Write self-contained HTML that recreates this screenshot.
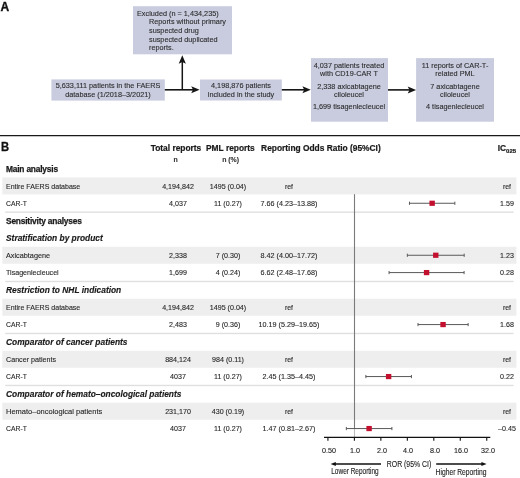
<!DOCTYPE html>
<html><head><meta charset="utf-8"><style>
html,body{margin:0;padding:0;background:#fff;}
body{width:520px;height:478px;position:relative;overflow:hidden;font-family:"Liberation Sans", sans-serif;}
.t{position:absolute;white-space:nowrap;filter:grayscale(1);-webkit-text-stroke:0.12px currentColor;}
.r{position:absolute;}
svg{position:absolute;left:0;top:0;}
</style></head><body>

<svg width="520" height="478" viewBox="0 0 520 478"><rect x="133.00" y="6.20" width="99.00" height="48.10" fill="#c9ccdf"/><rect x="51.40" y="79.40" width="113.40" height="21.20" fill="#c9ccdf"/><rect x="200.00" y="79.50" width="81.80" height="21.00" fill="#c9ccdf"/><rect x="311.00" y="58.10" width="77.00" height="63.60" fill="#c9ccdf"/><rect x="416.10" y="58.10" width="77.90" height="63.60" fill="#c9ccdf"/><line x1="182.3" y1="90" x2="182.3" y2="61" stroke="#151515" stroke-width="1.5"/><path d="M182.3 55.2 L185.9 63.8 L182.3 62 L178.7 63.8 Z" fill="#151515"/><line x1="164.8" y1="89.8" x2="194" y2="89.8" stroke="#151515" stroke-width="1.6"/><path d="M199.6 89.8 L191.2 86.3 L193 89.8 L191.2 93.3 Z" fill="#151515"/><line x1="281.8" y1="89.8" x2="305" y2="89.8" stroke="#151515" stroke-width="1.6"/><path d="M310.8 89.8 L302.4 86.3 L304.2 89.8 L302.4 93.3 Z" fill="#151515"/><line x1="388" y1="89.9" x2="410" y2="89.9" stroke="#151515" stroke-width="1.6"/><path d="M416.1 89.9 L407.7 86.4 L409.5 89.9 L407.7 93.4 Z" fill="#151515"/><line x1="0" y1="135.6" x2="520" y2="135.6" stroke="#1a1a1a" stroke-width="1.3"/><rect x="2.30" y="177.43" width="514.10" height="17.00" fill="#eeeeee"/><rect x="2.30" y="246.75" width="514.10" height="17.00" fill="#eeeeee"/><rect x="2.30" y="298.74" width="514.10" height="17.00" fill="#eeeeee"/><rect x="2.30" y="350.73" width="514.10" height="17.00" fill="#eeeeee"/><rect x="2.30" y="402.72" width="514.10" height="17.00" fill="#eeeeee"/><rect x="5.20" y="211.46" width="508.40" height="1.40" fill="#dfdfdf"/><rect x="5.20" y="280.78" width="508.40" height="1.40" fill="#dfdfdf"/><rect x="5.20" y="332.77" width="508.40" height="1.40" fill="#dfdfdf"/><rect x="5.20" y="384.76" width="508.40" height="1.40" fill="#dfdfdf"/><line x1="354.5" y1="194.2" x2="354.5" y2="428.6" stroke="#7a7a7a" stroke-width="1.1"/><line x1="354.5" y1="428.6" x2="354.5" y2="437" stroke="#7a7a7a" stroke-width="1.1" stroke-dasharray="1 1"/><line x1="409.48" y1="203.26" x2="454.85" y2="203.26" stroke="#5a5a5a" stroke-width="1"/><line x1="409.48" y1="201.66" x2="409.48" y2="204.86" stroke="#5a5a5a" stroke-width="1"/><line x1="454.85" y1="201.66" x2="454.85" y2="204.86" stroke="#5a5a5a" stroke-width="1"/><rect x="429.45" y="200.66" width="5.4" height="5.2" fill="#c3102f"/><line x1="407.34" y1="255.25" x2="464.18" y2="255.25" stroke="#5a5a5a" stroke-width="1"/><line x1="407.34" y1="253.65" x2="407.34" y2="256.85" stroke="#5a5a5a" stroke-width="1"/><line x1="464.18" y1="253.65" x2="464.18" y2="256.85" stroke="#5a5a5a" stroke-width="1"/><rect x="433.06" y="252.65" width="5.4" height="5.2" fill="#c3102f"/><line x1="389.08" y1="272.58" x2="464.09" y2="272.58" stroke="#5a5a5a" stroke-width="1"/><line x1="389.08" y1="270.98" x2="389.08" y2="274.18" stroke="#5a5a5a" stroke-width="1"/><line x1="464.09" y1="270.98" x2="464.09" y2="274.18" stroke="#5a5a5a" stroke-width="1"/><rect x="423.88" y="269.98" width="5.4" height="5.2" fill="#c3102f"/><line x1="418.01" y1="324.57" x2="468.13" y2="324.57" stroke="#5a5a5a" stroke-width="1"/><line x1="418.01" y1="322.97" x2="418.01" y2="326.17" stroke="#5a5a5a" stroke-width="1"/><line x1="468.13" y1="322.97" x2="468.13" y2="326.17" stroke="#5a5a5a" stroke-width="1"/><rect x="440.35" y="321.97" width="5.4" height="5.2" fill="#c3102f"/><line x1="365.86" y1="376.56" x2="411.41" y2="376.56" stroke="#5a5a5a" stroke-width="1"/><line x1="365.86" y1="374.96" x2="365.86" y2="378.16" stroke="#5a5a5a" stroke-width="1"/><line x1="411.41" y1="374.96" x2="411.41" y2="378.16" stroke="#5a5a5a" stroke-width="1"/><rect x="385.92" y="373.96" width="5.4" height="5.2" fill="#c3102f"/><line x1="346.35" y1="428.55" x2="391.90" y2="428.55" stroke="#5a5a5a" stroke-width="1"/><line x1="346.35" y1="426.95" x2="346.35" y2="430.15" stroke="#5a5a5a" stroke-width="1"/><line x1="391.90" y1="426.95" x2="391.90" y2="430.15" stroke="#5a5a5a" stroke-width="1"/><rect x="366.41" y="425.95" width="5.4" height="5.2" fill="#c3102f"/><line x1="324" y1="437.3" x2="490.3" y2="437.3" stroke="#111" stroke-width="1.3"/><line x1="327.93" y1="437.3" x2="327.93" y2="440.7" stroke="#111" stroke-width="1.1"/><line x1="354.40" y1="437.3" x2="354.40" y2="440.7" stroke="#111" stroke-width="1.1"/><line x1="380.87" y1="437.3" x2="380.87" y2="440.7" stroke="#111" stroke-width="1.1"/><line x1="407.34" y1="437.3" x2="407.34" y2="440.7" stroke="#111" stroke-width="1.1"/><line x1="433.81" y1="437.3" x2="433.81" y2="440.7" stroke="#111" stroke-width="1.1"/><line x1="460.28" y1="437.3" x2="460.28" y2="440.7" stroke="#111" stroke-width="1.1"/><line x1="486.75" y1="437.3" x2="486.75" y2="440.7" stroke="#111" stroke-width="1.1"/><line x1="334" y1="464.0" x2="381" y2="464.0" stroke="#111" stroke-width="1.5"/><path d="M330.6 464 L335.8 461.9 L335.8 466.1 Z" fill="#111"/><line x1="436.2" y1="464.0" x2="483" y2="464.0" stroke="#111" stroke-width="1.5"/><path d="M486.6 464 L481.4 461.9 L481.4 466.1 Z" fill="#111"/></svg>
<div class="t" style="top:1.14px;font-size:12.0px;line-height:12.0px;font-weight:bold;font-style:normal;color:#111;left:0.40px;-webkit-text-stroke:0.35px #111;">A</div><div class="t" style="top:9.87px;font-size:7.6px;line-height:7.6px;font-weight:normal;font-style:normal;color:#2c2c38;left:137.10px;transform:scaleX(0.96);transform-origin:0 0;">Excluded (n = 1,434,235)</div><div class="t" style="top:18.47px;font-size:7.6px;line-height:7.6px;font-weight:normal;font-style:normal;color:#2c2c38;left:149.20px;transform:scaleX(0.96);transform-origin:0 0;">Reports without primary</div><div class="t" style="top:27.07px;font-size:7.6px;line-height:7.6px;font-weight:normal;font-style:normal;color:#2c2c38;left:149.20px;transform:scaleX(0.96);transform-origin:0 0;">suspected drug</div><div class="t" style="top:35.67px;font-size:7.6px;line-height:7.6px;font-weight:normal;font-style:normal;color:#2c2c38;left:149.20px;transform:scaleX(0.96);transform-origin:0 0;">suspected duplicated</div><div class="t" style="top:44.27px;font-size:7.6px;line-height:7.6px;font-weight:normal;font-style:normal;color:#2c2c38;left:149.20px;transform:scaleX(0.96);transform-origin:0 0;">reports.</div><div class="t" style="top:82.07px;font-size:7.6px;line-height:7.6px;font-weight:normal;font-style:normal;color:#2c2c38;left:-41.90px;width:300px;text-align:center;transform:scaleX(0.96);transform-origin:50% 0;">5,633,111 patients in the FAERS</div><div class="t" style="top:90.57px;font-size:7.6px;line-height:7.6px;font-weight:normal;font-style:normal;color:#2c2c38;left:-41.90px;width:300px;text-align:center;transform:scaleX(0.96);transform-origin:50% 0;">database (1/2018–3/2021)</div><div class="t" style="top:82.07px;font-size:7.6px;line-height:7.6px;font-weight:normal;font-style:normal;color:#2c2c38;left:90.90px;width:300px;text-align:center;transform:scaleX(0.96);transform-origin:50% 0;">4,198,876 patients</div><div class="t" style="top:90.57px;font-size:7.6px;line-height:7.6px;font-weight:normal;font-style:normal;color:#2c2c38;left:90.90px;width:300px;text-align:center;transform:scaleX(0.96);transform-origin:50% 0;">included in the study</div><div class="t" style="top:62.07px;font-size:7.6px;line-height:7.6px;font-weight:normal;font-style:normal;color:#2c2c38;left:199.40px;width:300px;text-align:center;transform:scaleX(0.96);transform-origin:50% 0;">4,037 patients treated</div><div class="t" style="top:70.07px;font-size:7.6px;line-height:7.6px;font-weight:normal;font-style:normal;color:#2c2c38;left:199.40px;width:300px;text-align:center;transform:scaleX(0.96);transform-origin:50% 0;">with CD19-CAR T</div><div class="t" style="top:82.77px;font-size:7.6px;line-height:7.6px;font-weight:normal;font-style:normal;color:#2c2c38;left:199.40px;width:300px;text-align:center;transform:scaleX(0.96);transform-origin:50% 0;">2,338 axicabtagene</div><div class="t" style="top:91.17px;font-size:7.6px;line-height:7.6px;font-weight:normal;font-style:normal;color:#2c2c38;left:199.40px;width:300px;text-align:center;transform:scaleX(0.96);transform-origin:50% 0;">ciloleucel</div><div class="t" style="top:103.47px;font-size:7.6px;line-height:7.6px;font-weight:normal;font-style:normal;color:#2c2c38;left:199.40px;width:300px;text-align:center;transform:scaleX(0.96);transform-origin:50% 0;">1,699 tisagenlecleucel</div><div class="t" style="top:62.07px;font-size:7.6px;line-height:7.6px;font-weight:normal;font-style:normal;color:#2c2c38;left:305.10px;width:300px;text-align:center;transform:scaleX(0.96);transform-origin:50% 0;">11 reports of CAR-T-</div><div class="t" style="top:70.07px;font-size:7.6px;line-height:7.6px;font-weight:normal;font-style:normal;color:#2c2c38;left:305.10px;width:300px;text-align:center;transform:scaleX(0.96);transform-origin:50% 0;">related PML</div><div class="t" style="top:82.77px;font-size:7.6px;line-height:7.6px;font-weight:normal;font-style:normal;color:#2c2c38;left:305.10px;width:300px;text-align:center;transform:scaleX(0.96);transform-origin:50% 0;">7 axicabtagene</div><div class="t" style="top:91.17px;font-size:7.6px;line-height:7.6px;font-weight:normal;font-style:normal;color:#2c2c38;left:305.10px;width:300px;text-align:center;transform:scaleX(0.96);transform-origin:50% 0;">ciloleucel</div><div class="t" style="top:103.47px;font-size:7.6px;line-height:7.6px;font-weight:normal;font-style:normal;color:#2c2c38;left:305.10px;width:300px;text-align:center;transform:scaleX(0.96);transform-origin:50% 0;">4 tisagenlecleucel</div><div class="t" style="top:140.57px;font-size:12.2px;line-height:12.2px;font-weight:bold;font-style:normal;color:#111;left:0.80px;transform:scaleX(0.92);transform-origin:0 0;-webkit-text-stroke:0.3px #111;">B</div><div class="t" style="top:143.59px;font-size:8.4px;line-height:8.4px;font-weight:bold;font-style:normal;color:#1a1a1a;left:26.00px;width:300px;text-align:center;-webkit-text-stroke:0.2px #1a1a1a;">Total reports</div><div class="t" style="top:143.59px;font-size:8.4px;line-height:8.4px;font-weight:bold;font-style:normal;color:#1a1a1a;left:80.40px;width:300px;text-align:center;-webkit-text-stroke:0.2px #1a1a1a;">PML reports</div><div class="t" style="top:143.59px;font-size:8.4px;line-height:8.4px;font-weight:bold;font-style:normal;color:#1a1a1a;left:261.10px;-webkit-text-stroke:0.2px #1a1a1a;">Reporting Odds Ratio (95%CI)</div><div class="t" style="top:156.96px;font-size:6.9px;line-height:6.9px;font-weight:bold;font-style:normal;color:#333;left:25.60px;width:300px;text-align:center;">n</div><div class="t" style="top:156.96px;font-size:6.9px;line-height:6.9px;font-weight:bold;font-style:normal;color:#333;left:80.60px;width:300px;text-align:center;">n (%)</div><div class="t" style="top:143.79px;font-size:8.4px;line-height:8.4px;font-weight:bold;font-style:normal;color:#1a1a1a;left:497.70px;-webkit-text-stroke:0.2px #1a1a1a;">IC<span style="font-size:6px;position:relative;top:2.4px">025</span></div><div class="t" style="top:164.69px;font-size:8.4px;line-height:8.4px;font-weight:bold;font-style:normal;color:#1a1a1a;left:6.00px;letter-spacing:-0.2px;-webkit-text-stroke:0.25px #1a1a1a;">Main analysis</div><div class="t" style="top:182.53px;font-size:7.8px;line-height:7.8px;font-weight:normal;font-style:normal;color:#282828;left:6.00px;transform:scaleX(0.9019230769230768);transform-origin:0 0;">Entire FAERS database</div><div class="t" style="top:182.53px;font-size:7.8px;line-height:7.8px;font-weight:normal;font-style:normal;color:#282828;left:27.60px;width:300px;text-align:center;transform:scaleX(0.9134615384615384);transform-origin:50% 0;">4,194,842</div><div class="t" style="top:182.53px;font-size:7.8px;line-height:7.8px;font-weight:normal;font-style:normal;color:#282828;left:78.00px;width:300px;text-align:center;transform:scaleX(0.9134615384615384);transform-origin:50% 0;">1495 (0.04)</div><div class="t" style="top:182.70px;font-size:7.6px;line-height:7.6px;font-weight:normal;font-style:normal;color:#282828;left:138.80px;width:300px;text-align:center;transform:scaleX(0.9134615384615384);transform-origin:50% 0;">ref</div><div class="t" style="top:182.70px;font-size:7.6px;line-height:7.6px;font-weight:normal;font-style:normal;color:#282828;left:356.80px;width:300px;text-align:center;transform:scaleX(0.9134615384615384);transform-origin:50% 0;">ref</div><div class="t" style="top:199.86px;font-size:7.8px;line-height:7.8px;font-weight:normal;font-style:normal;color:#282828;left:6.00px;transform:scaleX(0.875);transform-origin:0 0;">CAR-T</div><div class="t" style="top:199.86px;font-size:7.8px;line-height:7.8px;font-weight:normal;font-style:normal;color:#282828;left:27.60px;width:300px;text-align:center;transform:scaleX(0.9134615384615384);transform-origin:50% 0;">4,037</div><div class="t" style="top:199.86px;font-size:7.8px;line-height:7.8px;font-weight:normal;font-style:normal;color:#282828;left:78.00px;width:300px;text-align:center;transform:scaleX(0.9134615384615384);transform-origin:50% 0;">11 (0.27)</div><div class="t" style="top:199.77px;font-size:7.9px;line-height:7.9px;font-weight:normal;font-style:normal;color:#282828;left:138.80px;width:300px;text-align:center;transform:scaleX(0.9134615384615384);transform-origin:50% 0;">7.66 (4.23–13.88)</div><div class="t" style="top:199.86px;font-size:7.8px;line-height:7.8px;font-weight:normal;font-style:normal;color:#282828;left:356.80px;width:300px;text-align:center;transform:scaleX(0.9134615384615384);transform-origin:50% 0;">1.59</div><div class="t" style="top:216.68px;font-size:8.4px;line-height:8.4px;font-weight:bold;font-style:normal;color:#1a1a1a;left:6.00px;letter-spacing:-0.2px;-webkit-text-stroke:0.25px #1a1a1a;">Sensitivity analyses</div><div class="t" style="top:234.03px;font-size:8.38px;line-height:8.38px;font-weight:bold;font-style:italic;color:#1a1a1a;left:6.00px;-webkit-text-stroke:0.15px #1a1a1a;">Stratification by product</div><div class="t" style="top:251.85px;font-size:7.8px;line-height:7.8px;font-weight:normal;font-style:normal;color:#282828;left:6.00px;transform:scaleX(0.9326923076923076);transform-origin:0 0;">Axicabtagene</div><div class="t" style="top:251.85px;font-size:7.8px;line-height:7.8px;font-weight:normal;font-style:normal;color:#282828;left:27.60px;width:300px;text-align:center;transform:scaleX(0.9134615384615384);transform-origin:50% 0;">2,338</div><div class="t" style="top:251.85px;font-size:7.8px;line-height:7.8px;font-weight:normal;font-style:normal;color:#282828;left:78.00px;width:300px;text-align:center;transform:scaleX(0.9134615384615384);transform-origin:50% 0;">7 (0.30)</div><div class="t" style="top:251.76px;font-size:7.9px;line-height:7.9px;font-weight:normal;font-style:normal;color:#282828;left:138.80px;width:300px;text-align:center;transform:scaleX(0.9134615384615384);transform-origin:50% 0;">8.42 (4.00–17.72)</div><div class="t" style="top:251.85px;font-size:7.8px;line-height:7.8px;font-weight:normal;font-style:normal;color:#282828;left:356.80px;width:300px;text-align:center;transform:scaleX(0.9134615384615384);transform-origin:50% 0;">1.23</div><div class="t" style="top:269.18px;font-size:7.8px;line-height:7.8px;font-weight:normal;font-style:normal;color:#282828;left:6.00px;transform:scaleX(0.9115384615384615);transform-origin:0 0;">Tisagenlecleucel</div><div class="t" style="top:269.18px;font-size:7.8px;line-height:7.8px;font-weight:normal;font-style:normal;color:#282828;left:27.60px;width:300px;text-align:center;transform:scaleX(0.9134615384615384);transform-origin:50% 0;">1,699</div><div class="t" style="top:269.18px;font-size:7.8px;line-height:7.8px;font-weight:normal;font-style:normal;color:#282828;left:78.00px;width:300px;text-align:center;transform:scaleX(0.9134615384615384);transform-origin:50% 0;">4 (0.24)</div><div class="t" style="top:269.09px;font-size:7.9px;line-height:7.9px;font-weight:normal;font-style:normal;color:#282828;left:138.80px;width:300px;text-align:center;transform:scaleX(0.9134615384615384);transform-origin:50% 0;">6.62 (2.48–17.68)</div><div class="t" style="top:269.18px;font-size:7.8px;line-height:7.8px;font-weight:normal;font-style:normal;color:#282828;left:356.80px;width:300px;text-align:center;transform:scaleX(0.9134615384615384);transform-origin:50% 0;">0.28</div><div class="t" style="top:286.02px;font-size:8.38px;line-height:8.38px;font-weight:bold;font-style:italic;color:#1a1a1a;left:6.00px;-webkit-text-stroke:0.15px #1a1a1a;">Restriction to NHL indication</div><div class="t" style="top:303.84px;font-size:7.8px;line-height:7.8px;font-weight:normal;font-style:normal;color:#282828;left:6.00px;transform:scaleX(0.9019230769230768);transform-origin:0 0;">Entire FAERS database</div><div class="t" style="top:303.84px;font-size:7.8px;line-height:7.8px;font-weight:normal;font-style:normal;color:#282828;left:27.60px;width:300px;text-align:center;transform:scaleX(0.9134615384615384);transform-origin:50% 0;">4,194,842</div><div class="t" style="top:303.84px;font-size:7.8px;line-height:7.8px;font-weight:normal;font-style:normal;color:#282828;left:78.00px;width:300px;text-align:center;transform:scaleX(0.9134615384615384);transform-origin:50% 0;">1495 (0.04)</div><div class="t" style="top:304.01px;font-size:7.6px;line-height:7.6px;font-weight:normal;font-style:normal;color:#282828;left:138.80px;width:300px;text-align:center;transform:scaleX(0.9134615384615384);transform-origin:50% 0;">ref</div><div class="t" style="top:304.01px;font-size:7.6px;line-height:7.6px;font-weight:normal;font-style:normal;color:#282828;left:356.80px;width:300px;text-align:center;transform:scaleX(0.9134615384615384);transform-origin:50% 0;">ref</div><div class="t" style="top:321.17px;font-size:7.8px;line-height:7.8px;font-weight:normal;font-style:normal;color:#282828;left:6.00px;transform:scaleX(0.875);transform-origin:0 0;">CAR-T</div><div class="t" style="top:321.17px;font-size:7.8px;line-height:7.8px;font-weight:normal;font-style:normal;color:#282828;left:27.60px;width:300px;text-align:center;transform:scaleX(0.9134615384615384);transform-origin:50% 0;">2,483</div><div class="t" style="top:321.17px;font-size:7.8px;line-height:7.8px;font-weight:normal;font-style:normal;color:#282828;left:78.00px;width:300px;text-align:center;transform:scaleX(0.9134615384615384);transform-origin:50% 0;">9 (0.36)</div><div class="t" style="top:321.08px;font-size:7.9px;line-height:7.9px;font-weight:normal;font-style:normal;color:#282828;left:138.80px;width:300px;text-align:center;transform:scaleX(0.9134615384615384);transform-origin:50% 0;">10.19 (5.29–19.65)</div><div class="t" style="top:321.17px;font-size:7.8px;line-height:7.8px;font-weight:normal;font-style:normal;color:#282828;left:356.80px;width:300px;text-align:center;transform:scaleX(0.9134615384615384);transform-origin:50% 0;">1.68</div><div class="t" style="top:338.01px;font-size:8.38px;line-height:8.38px;font-weight:bold;font-style:italic;color:#1a1a1a;left:6.00px;-webkit-text-stroke:0.15px #1a1a1a;">Comparator of cancer patients</div><div class="t" style="top:355.83px;font-size:7.8px;line-height:7.8px;font-weight:normal;font-style:normal;color:#282828;left:6.00px;transform:scaleX(0.9173076923076923);transform-origin:0 0;">Cancer patients</div><div class="t" style="top:355.83px;font-size:7.8px;line-height:7.8px;font-weight:normal;font-style:normal;color:#282828;left:27.60px;width:300px;text-align:center;transform:scaleX(0.9134615384615384);transform-origin:50% 0;">884,124</div><div class="t" style="top:355.83px;font-size:7.8px;line-height:7.8px;font-weight:normal;font-style:normal;color:#282828;left:78.00px;width:300px;text-align:center;transform:scaleX(0.9134615384615384);transform-origin:50% 0;">984 (0.11)</div><div class="t" style="top:356.00px;font-size:7.6px;line-height:7.6px;font-weight:normal;font-style:normal;color:#282828;left:138.80px;width:300px;text-align:center;transform:scaleX(0.9134615384615384);transform-origin:50% 0;">ref</div><div class="t" style="top:356.00px;font-size:7.6px;line-height:7.6px;font-weight:normal;font-style:normal;color:#282828;left:356.80px;width:300px;text-align:center;transform:scaleX(0.9134615384615384);transform-origin:50% 0;">ref</div><div class="t" style="top:373.16px;font-size:7.8px;line-height:7.8px;font-weight:normal;font-style:normal;color:#282828;left:6.00px;transform:scaleX(0.875);transform-origin:0 0;">CAR-T</div><div class="t" style="top:373.16px;font-size:7.8px;line-height:7.8px;font-weight:normal;font-style:normal;color:#282828;left:27.60px;width:300px;text-align:center;transform:scaleX(0.9134615384615384);transform-origin:50% 0;">4037</div><div class="t" style="top:373.16px;font-size:7.8px;line-height:7.8px;font-weight:normal;font-style:normal;color:#282828;left:78.00px;width:300px;text-align:center;transform:scaleX(0.9134615384615384);transform-origin:50% 0;">11 (0.27)</div><div class="t" style="top:373.07px;font-size:7.9px;line-height:7.9px;font-weight:normal;font-style:normal;color:#282828;left:138.80px;width:300px;text-align:center;transform:scaleX(0.9134615384615384);transform-origin:50% 0;">2.45 (1.35–4.45)</div><div class="t" style="top:373.16px;font-size:7.8px;line-height:7.8px;font-weight:normal;font-style:normal;color:#282828;left:356.80px;width:300px;text-align:center;transform:scaleX(0.9134615384615384);transform-origin:50% 0;">0.22</div><div class="t" style="top:390.00px;font-size:8.38px;line-height:8.38px;font-weight:bold;font-style:italic;color:#1a1a1a;left:6.00px;-webkit-text-stroke:0.15px #1a1a1a;">Comparator of hemato–oncological patients</div><div class="t" style="top:407.82px;font-size:7.8px;line-height:7.8px;font-weight:normal;font-style:normal;color:#282828;left:6.00px;transform:scaleX(0.9615384615384616);transform-origin:0 0;">Hemato–oncological patients</div><div class="t" style="top:407.82px;font-size:7.8px;line-height:7.8px;font-weight:normal;font-style:normal;color:#282828;left:27.60px;width:300px;text-align:center;transform:scaleX(0.9134615384615384);transform-origin:50% 0;">231,170</div><div class="t" style="top:407.82px;font-size:7.8px;line-height:7.8px;font-weight:normal;font-style:normal;color:#282828;left:78.00px;width:300px;text-align:center;transform:scaleX(0.9134615384615384);transform-origin:50% 0;">430 (0.19)</div><div class="t" style="top:407.99px;font-size:7.6px;line-height:7.6px;font-weight:normal;font-style:normal;color:#282828;left:138.80px;width:300px;text-align:center;transform:scaleX(0.9134615384615384);transform-origin:50% 0;">ref</div><div class="t" style="top:407.99px;font-size:7.6px;line-height:7.6px;font-weight:normal;font-style:normal;color:#282828;left:356.80px;width:300px;text-align:center;transform:scaleX(0.9134615384615384);transform-origin:50% 0;">ref</div><div class="t" style="top:425.15px;font-size:7.8px;line-height:7.8px;font-weight:normal;font-style:normal;color:#282828;left:6.00px;transform:scaleX(0.875);transform-origin:0 0;">CAR-T</div><div class="t" style="top:425.15px;font-size:7.8px;line-height:7.8px;font-weight:normal;font-style:normal;color:#282828;left:27.60px;width:300px;text-align:center;transform:scaleX(0.9134615384615384);transform-origin:50% 0;">4037</div><div class="t" style="top:425.15px;font-size:7.8px;line-height:7.8px;font-weight:normal;font-style:normal;color:#282828;left:78.00px;width:300px;text-align:center;transform:scaleX(0.9134615384615384);transform-origin:50% 0;">11 (0.27)</div><div class="t" style="top:425.06px;font-size:7.9px;line-height:7.9px;font-weight:normal;font-style:normal;color:#282828;left:138.80px;width:300px;text-align:center;transform:scaleX(0.9134615384615384);transform-origin:50% 0;">1.47 (0.81–2.67)</div><div class="t" style="top:425.15px;font-size:7.8px;line-height:7.8px;font-weight:normal;font-style:normal;color:#282828;left:356.80px;width:300px;text-align:center;transform:scaleX(0.9134615384615384);transform-origin:50% 0;">–0.45</div><div class="t" style="top:447.40px;font-size:7.8px;line-height:7.8px;font-weight:normal;font-style:normal;color:#222;left:308.73px;width:40px;text-align:center;transform:scaleX(0.92);transform-origin:50% 0;">0.50</div><div class="t" style="top:447.40px;font-size:7.8px;line-height:7.8px;font-weight:normal;font-style:normal;color:#222;left:334.60px;width:40px;text-align:center;transform:scaleX(0.92);transform-origin:50% 0;">1.0</div><div class="t" style="top:447.40px;font-size:7.8px;line-height:7.8px;font-weight:normal;font-style:normal;color:#222;left:361.67px;width:40px;text-align:center;transform:scaleX(0.92);transform-origin:50% 0;">2.0</div><div class="t" style="top:447.40px;font-size:7.8px;line-height:7.8px;font-weight:normal;font-style:normal;color:#222;left:388.14px;width:40px;text-align:center;transform:scaleX(0.92);transform-origin:50% 0;">4.0</div><div class="t" style="top:447.40px;font-size:7.8px;line-height:7.8px;font-weight:normal;font-style:normal;color:#222;left:414.61px;width:40px;text-align:center;transform:scaleX(0.92);transform-origin:50% 0;">8.0</div><div class="t" style="top:447.40px;font-size:7.8px;line-height:7.8px;font-weight:normal;font-style:normal;color:#222;left:441.08px;width:40px;text-align:center;transform:scaleX(0.92);transform-origin:50% 0;">16.0</div><div class="t" style="top:447.40px;font-size:7.8px;line-height:7.8px;font-weight:normal;font-style:normal;color:#222;left:467.55px;width:40px;text-align:center;transform:scaleX(0.92);transform-origin:50% 0;">32.0</div><div class="t" style="top:459.87px;font-size:8.3px;line-height:8.3px;font-weight:normal;font-style:normal;color:#222;left:368.50px;width:80px;text-align:center;transform:scaleX(0.83);transform-origin:50% 0;">ROR (95% CI)</div><div class="t" style="top:467.76px;font-size:8.2px;line-height:8.2px;font-weight:normal;font-style:normal;color:#222;left:314.60px;width:80px;text-align:center;transform:scaleX(0.79);transform-origin:50% 0;">Lower Reporting</div><div class="t" style="top:469.26px;font-size:8.2px;line-height:8.2px;font-weight:normal;font-style:normal;color:#222;left:421.20px;width:80px;text-align:center;transform:scaleX(0.82);transform-origin:50% 0;">Higher Reporting</div>
</body></html>
